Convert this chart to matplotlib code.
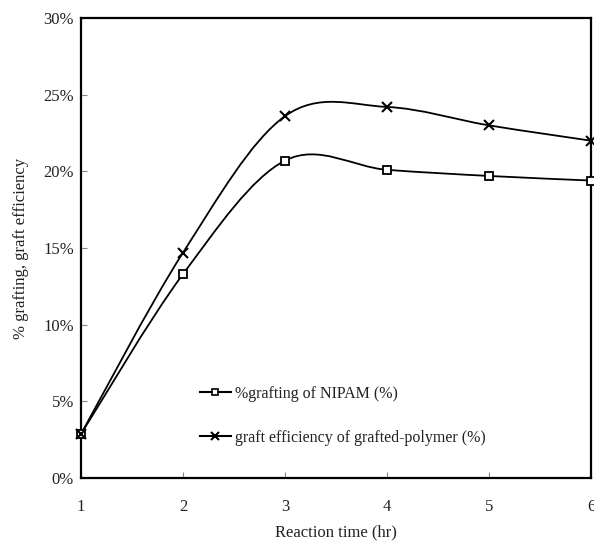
import numpy as np
import matplotlib
matplotlib.use('Agg')
import matplotlib.pyplot as plt
from matplotlib.path import Path
from matplotlib.patches import PathPatch
from matplotlib.lines import Line2D
from matplotlib.ticker import PercentFormatter

plt.rcParams['font.family'] = ['Liberation Serif', 'DejaVu Serif']

# data
reaction_time = [1, 2, 3, 4, 5, 6]
grafting_nipam = [2.87, 13.3, 20.7, 20.1, 19.7, 19.4]
graft_efficiency = [2.87, 14.7, 23.6, 24.2, 23.0, 22.0]
label_grafting = '%grafting of NIPAM (%)'
label_efficiency = 'graft efficiency of grafted-polymer (%)'


# Excel style smoothed line: cubic bezier through the points (Catmull-Rom)
def smooth_path(xs, ys):
    p = np.column_stack([xs, ys]).astype(float)
    n = len(p)
    verts = [p[0]]
    codes = [Path.MOVETO]
    for i in range(n - 1):
        prev = p[i - 1] if i > 0 else p[i]
        nxt = p[i + 2] if i + 2 < n else p[i + 1]
        c1 = p[i] + (p[i + 1] - prev) / 6
        c2 = p[i + 1] - (nxt - p[i]) / 6
        verts += [c1, c2, p[i + 1]]
        codes += [Path.CURVE4] * 3
    return Path(verts, codes)


fig = plt.figure(figsize=(5.94, 5.46), dpi=100)
ax = fig.add_axes([0.1364, 0.1245, 0.8585, 0.8425])

for ys in (grafting_nipam, graft_efficiency):
    ax.add_patch(PathPatch(smooth_path(reaction_time, ys), fill=False,
                           edgecolor='black', lw=1.3, clip_on=False))

ax.plot(reaction_time, grafting_nipam, ls='none', marker='s', ms=6,
        mfc='white', mec='black', mew=1.3, clip_on=False, zorder=3)
ax.plot(reaction_time, graft_efficiency, ls='none', marker='x', ms=6.5,
        mec='black', mew=1.5, clip_on=False, zorder=3)

ax.set_xlim(1, 6)
ax.set_ylim(0, 30)
ax.set_xticks(reaction_time)
ax.set_yticks(range(0, 31, 5))
ax.yaxis.set_major_formatter(PercentFormatter(decimals=0))

for s in ax.spines.values():
    s.set_linewidth(1.6)
    s.set_color('black')

ax.tick_params(axis='both', direction='in', length=4, width=0.8,
               color='#888888', labelsize=12, labelcolor='#222222')
ax.tick_params(axis='x', pad=15)
ax.tick_params(axis='y', pad=5)

ax.set_xlabel('Reaction time (hr)', fontsize=12, color='#222222', labelpad=7)
ax.set_ylabel('% grafting, graft efficiency', fontsize=12, color='#222222',
              labelpad=10)

handles = [
    Line2D([], [], color='black', lw=1.5, marker='s', ms=5, mfc='white', mew=1.2),
    Line2D([], [], color='black', lw=1.5, marker='x', ms=6, mew=1.5),
]
ax.legend(handles, [label_grafting, label_efficiency], loc='center left',
          bbox_to_anchor=(0.218, 0.135), frameon=False, fontsize=11.5,
          handlelength=1.9, handletextpad=0.25, labelspacing=1.75,
          borderpad=0, labelcolor='#222222')

fig.savefig('out.png', dpi=100)
